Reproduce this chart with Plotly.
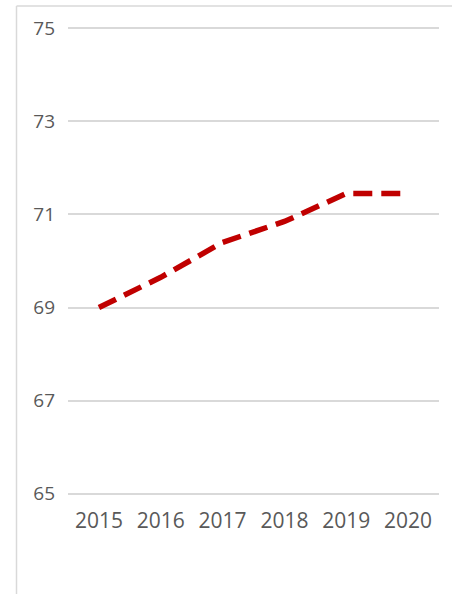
import plotly.graph_objects as go

years = ["2015", "2016", "2017", "2018", "2019", "2020"]
values = [69.0, 69.65, 70.4, 70.85, 71.45, 71.45]
y_ticks = [65, 67, 69, 71, 73, 75]

W, H = 452, 594
L, R, T, B = 68, 13, 26.4, 98
pw = W - L - R
ph = H - T - B

fig = go.Figure()
fig.add_trace(go.Scatter(
    x=years, y=values, mode="lines",
    line=dict(color="#C00000", width=5.5, dash="19px,9px"),
    hoverinfo="skip", showlegend=False,
))

# outer frame (left and top edges visible)
fx0 = (16.5 - L) / pw
fy1 = 1 + (T - 6.5) / ph
fig.add_shape(type="line", xref="paper", yref="paper", x0=fx0, x1=fx0, y0=-1, y1=fy1,
              line=dict(color="#d9d9d9", width=1.5))
fig.add_shape(type="line", xref="paper", yref="paper", x0=fx0, x1=2, y0=fy1, y1=fy1,
              line=dict(color="#d9d9d9", width=1.5))

fig.update_layout(
    width=W, height=H,
    margin=dict(l=L, r=R, t=T, b=B),
    paper_bgcolor="white", plot_bgcolor="white",
    font=dict(family="Open Sans", color="#595959"),
    xaxis=dict(
        type="category", range=[-0.5, 5.5], showgrid=False, zeroline=False, showline=False,
        ticks="", tickfont=dict(size=21, color="#595959"),
        ticklabelstandoff=10,
    ),
    yaxis=dict(
        range=[64.95, 75.05], tickvals=y_ticks, ticktext=[str(v) for v in y_ticks],
        showgrid=True, gridcolor="#d9d9d9", gridwidth=1.5,
        zeroline=False, showline=False, ticks="",
        tickfont=dict(size=19, color="#595959"),
        ticklabelstandoff=12,
    ),
)

fig.write_html("out.html")
